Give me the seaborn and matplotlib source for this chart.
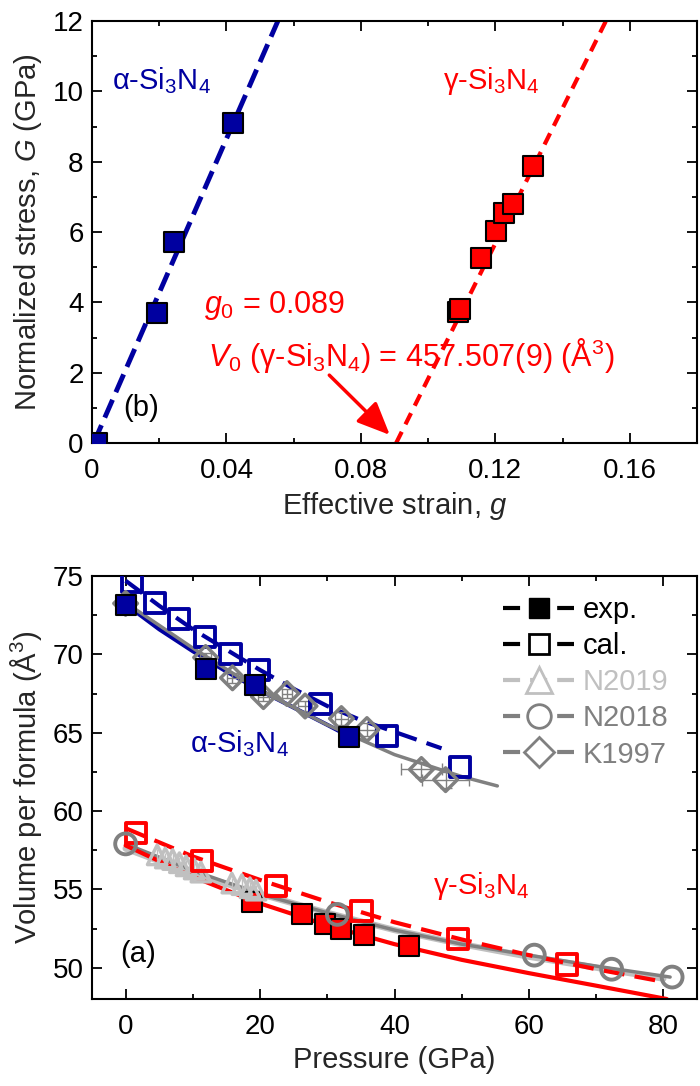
import numpy as np
import pandas as pd
import seaborn as sns
import matplotlib
matplotlib.use('Agg')
import matplotlib.pyplot as plt
from matplotlib.lines import Line2D
from matplotlib.ticker import MultipleLocator, FixedLocator, FixedFormatter

# ---------------- panel (b): normalized stress vs effective strain
alpha_g = [0.0015, 0.0192, 0.0245, 0.0420]
alpha_G = [0.0, 3.70, 5.72, 9.10]
gamma_g = [0.1088, 0.1096, 0.1157, 0.1202, 0.1226, 0.1253, 0.1313]
gamma_G = [3.72, 3.82, 5.26, 6.03, 6.55, 6.80, 7.88]
alpha_fit_g = [0.0005, 0.0553]
alpha_fit_G = [0.0, 12.0]
gamma_fit_g = [0.0905, 0.1529]
gamma_fit_G = [0.0, 12.0]
strain_ticks = [0, 0.04, 0.08, 0.12, 0.16]
strain_labels = ['0', '0.04', '0.08', '0.12', '0.16']

# ---------------- panel (a): volume vs pressure
a_exp_P = [0.0, 12.0, 19.2, 33.2]
a_exp_V = [73.15, 69.05, 68.05, 64.75]
a_cal_P = [0.9, 4.4, 7.9, 11.8, 15.6, 19.8, 29.0, 38.9, 49.8]
a_cal_V = [74.6, 73.3, 72.25, 71.1, 70.0, 69.0, 66.85, 64.8, 62.8]
a_exp_fit_P = [0, 5, 10, 15, 20, 25, 30, 34]
a_exp_fit_V = [73.2, 71.6, 70.2, 68.9, 67.7, 66.6, 65.5, 64.6]
a_cal_fit_P = [0, 5, 10, 15, 20, 25, 30, 35, 40, 47]
a_cal_fit_V = [74.7, 73.1, 71.6, 70.3, 69.0, 67.8, 66.7, 65.8, 65.05, 64.0]

k1997_P = [0.0, 11.9, 15.9, 20.5, 24.0, 26.7, 32.1, 35.9, 44.0, 47.6]
k1997_V = [73.25, 69.8, 68.5, 67.3, 67.5, 66.7, 65.9, 65.2, 62.65, 62.0]
k1997_Perr = [0.5, 0.8, 0.8, 0.8, 0.8, 1.0, 1.0, 1.2, 3.0, 3.5]
k1997_Verr = [0.3, 0.3, 0.3, 0.3, 0.3, 0.3, 0.4, 0.4, 0.5, 0.5]
k1997_fit_P = [0, 10, 20, 30, 40, 50, 55.3]
k1997_fit_V = [73.3, 70.4, 67.7, 65.5, 63.6, 62.2, 61.6]

g_exp_P = [18.8, 26.2, 29.6, 32.0, 35.5, 42.2]
g_exp_V = [54.2, 53.4, 52.8, 52.5, 52.1, 51.4]
g_cal_P = [1.6, 11.3, 22.4, 35.1, 49.4, 65.6]
g_cal_V = [58.6, 56.8, 55.2, 53.6, 51.85, 50.2]
g_exp_fit_P = [0, 10, 20, 30, 40, 50, 60, 70, 80.5]
g_exp_fit_V = [57.8, 55.8, 54.1, 52.7, 51.5, 50.5, 49.65, 48.85, 48.0]
g_cal_fit_P = [0, 10, 20, 30, 40, 50, 60, 70, 80]
g_cal_fit_V = [58.9, 57.1, 55.6, 54.2, 52.9, 51.8, 50.8, 49.9, 49.1]

n2018_P = [0.0, 31.5, 60.8, 72.3, 81.3]
n2018_V = [57.9, 53.4, 50.8, 49.9, 49.4]
n2018_fit_P = [0, 10, 20, 30, 40, 50, 60, 70, 81]
n2018_fit_V = [57.9, 56.2, 54.7, 53.5, 52.4, 51.5, 50.8, 50.1, 49.4]

n2019_P = [4.7, 5.9, 7.0, 8.0, 9.0, 10.2, 11.2, 15.8, 17.3, 18.5, 19.4]
n2019_V = [57.2, 57.0, 56.9, 56.7, 56.5, 56.3, 56.1, 55.4, 55.3, 55.1, 54.95]
n2019_fit_P = [0, 10, 20, 30, 40, 50, 60, 70, 80]
n2019_fit_V = [57.6, 56.0, 54.7, 53.5, 52.4, 51.5, 50.7, 50.0, 49.3]

legend_labels = ['exp.', 'cal.', 'N2019', 'N2018', 'K1997']

BLUE = '#0000a0'
RED = '#ff0000'
GRAY = '#808080'
LGRAY = '#c0c0c0'

sns.set_style('ticks')
plt.rcParams['font.family'] = ['Liberation Sans', 'DejaVu Sans']
plt.rcParams['mathtext.fontset'] = 'custom'
plt.rcParams['mathtext.rm'] = 'Liberation Sans'
plt.rcParams['mathtext.it'] = 'Liberation Sans:italic'
plt.rcParams['mathtext.default'] = 'regular'


def pts(ax, x, y, marker, ms, face, edge, lw, z):
    sns.scatterplot(x=x, y=y, ax=ax, marker=marker, s=ms ** 2, color=edge,
                    edgecolor=edge, linewidth=lw, zorder=z, legend=False)
    pc = ax.collections[-1]
    pc.set_facecolor(face)
    pc.set_edgecolor(edge)


def fit(ax, x, y, color, lw, dashes=None, z=2):
    sns.lineplot(x=x, y=y, ax=ax, color=color, lw=lw, zorder=z,
                 sort=False, estimator=None)
    ln = ax.lines[-1]
    if dashes:
        ln.set_dashes(dashes)


def style(ax):
    ax.tick_params(which='both', direction='in', top=True, right=True,
                   width=1.3, labelsize=20, colors='black')
    ax.tick_params(which='major', length=7)
    ax.tick_params(which='minor', length=3.5)
    ax.tick_params(axis='x', pad=11)
    ax.tick_params(axis='y', pad=6)
    for sp in ax.spines.values():
        sp.set_visible(True)
        sp.set_linewidth(1.5)
        sp.set_color('black')


fig = plt.figure(figsize=(7, 10.86), dpi=100)
ax_b = fig.add_axes([92 / 700, 1 - 443 / 1086, 605 / 700, 422 / 1086])
ax_a = fig.add_axes([92 / 700, 1 - 999 / 1086, 605 / 700, 423 / 1086])

# ---------- panel (b)
fit(ax_b, alpha_fit_g, alpha_fit_G, BLUE, 3.5, dashes=(4, 1.7))
fit(ax_b, gamma_fit_g, gamma_fit_G, RED, 3, dashes=(3, 2))
pts(ax_b, alpha_g, alpha_G, 's', 14.5, BLUE, 'black', 1.5, 4)
pts(ax_b, gamma_g, gamma_G, 's', 14.5, RED, 'black', 1.5, 4)

ax_b.set_xlim(0, 0.18)
ax_b.set_ylim(0, 12)
ax_b.xaxis.set_major_locator(FixedLocator(strain_ticks))
ax_b.xaxis.set_major_formatter(FixedFormatter(strain_labels))
ax_b.xaxis.set_minor_locator(MultipleLocator(0.02))
ax_b.yaxis.set_major_locator(MultipleLocator(2))
ax_b.yaxis.set_minor_locator(MultipleLocator(1))
style(ax_b)
ax_b.set_xlabel(r'Effective strain, $\mathit{g}$', fontsize=21, labelpad=4)
ax_b.set_ylabel(r'Normalized stress, $\mathit{G}$ (GPa)', fontsize=21, labelpad=6)

ax_b.text(0.006, 10.3, 'α-Si$_3$N$_4$', color=BLUE, fontsize=21, va='center')
ax_b.text(0.1045, 10.3, 'γ-Si$_3$N$_4$', color=RED, fontsize=21, va='center')
ax_b.text(0.0092, 1.0, '(b)', color='black', fontsize=21, va='center')
ax_b.text(0.0334, 3.9, r'$\mathit{g}_0$ = 0.089', color=RED, fontsize=22, va='center')
ax_b.text(0.0345, 2.5, r'$\mathit{V}_0$ (γ-Si$_3$N$_4$) = 457.507(9) (Å$^3$)',
          color=RED, fontsize=22, va='center')
ax_b.annotate('', xy=(0.0886, 0.23), xytext=(0.0706, 1.93),
              arrowprops=dict(arrowstyle='-|>,head_length=0.8,head_width=0.35',
                              color=RED, lw=2.5, mutation_scale=25,
                              shrinkA=0, shrinkB=0))

# ---------- panel (a)
fit(ax_a, n2019_fit_P, n2019_fit_V, LGRAY, 4.5, z=2)
fit(ax_a, n2018_fit_P, n2018_fit_V, GRAY, 2.5, z=2.1)
fit(ax_a, g_exp_fit_P, g_exp_fit_V, RED, 3, z=2.2)
fit(ax_a, g_cal_fit_P, g_cal_fit_V, RED, 3, dashes=(5, 2.5), z=2.2)
fit(ax_a, a_exp_fit_P, a_exp_fit_V, BLUE, 3, z=2.2)
fit(ax_a, a_cal_fit_P, a_cal_fit_V, BLUE, 3, dashes=(5, 2.5), z=2.2)
fit(ax_a, k1997_fit_P, k1997_fit_V, GRAY, 2.5, z=2.3)

ax_a.errorbar(k1997_P, k1997_V, xerr=k1997_Perr, yerr=k1997_Verr, fmt='none',
              ecolor=GRAY, elinewidth=1, capsize=4, zorder=2.5)
ax_a.errorbar(n2019_P, n2019_V, yerr=[0.35] * len(n2019_V), fmt='none',
              ecolor=LGRAY, elinewidth=1, capsize=0, zorder=2.5)

pts(ax_a, a_cal_P, a_cal_V, 's', 14.5, 'none', BLUE, 2.8, 3)
pts(ax_a, g_exp_P, g_exp_V, 's', 15, RED, 'black', 1.5, 3)
pts(ax_a, n2019_P, n2019_V, '^', 14, 'none', LGRAY, 2.5, 3.2)
pts(ax_a, g_cal_P, g_cal_V, 's', 14.5, 'none', RED, 2.8, 3.3)
pts(ax_a, n2018_P, n2018_V, 'o', 15, 'none', GRAY, 2.8, 3.4)
pts(ax_a, k1997_P, k1997_V, 'D', 12, 'none', GRAY, 2.5, 3.4)
pts(ax_a, a_exp_P, a_exp_V, 's', 15, BLUE, 'black', 1.5, 4)

ax_a.set_xlim(-5, 85)
ax_a.set_ylim(48, 75)
ax_a.xaxis.set_major_locator(MultipleLocator(20))
ax_a.xaxis.set_minor_locator(MultipleLocator(10))
ax_a.yaxis.set_major_locator(MultipleLocator(5))
ax_a.yaxis.set_minor_locator(MultipleLocator(2.5))
style(ax_a)
ax_a.set_xlabel('Pressure (GPa)', fontsize=21, labelpad=4)
ax_a.set_ylabel('Volume per formula (Å$^3$)', fontsize=21, labelpad=6)

ax_a.text(9.6, 64.3, 'α-Si$_3$N$_4$', color=BLUE, fontsize=21, va='center')
ax_a.text(45.7, 55.2, 'γ-Si$_3$N$_4$', color=RED, fontsize=21, va='center')
ax_a.text(-0.75, 50.9, '(a)', color='black', fontsize=21, va='center')

dash = (4.1, 2.4)
handles = [
    Line2D([], [], color='black', lw=3, dashes=dash, marker='s', ms=15,
           mfc='black', mec='black'),
    Line2D([], [], color='black', lw=3, dashes=dash, marker='s', ms=15,
           mfc='white', mec='black', mew=2),
    Line2D([], [], color=LGRAY, lw=3, dashes=dash, marker='^', ms=19,
           mfc='white', mec=LGRAY, mew=2),
    Line2D([], [], color=GRAY, lw=3, dashes=dash, marker='o', ms=17,
           mfc='white', mec=GRAY, mew=2),
    Line2D([], [], color=GRAY, lw=3, dashes=dash, marker='D', ms=15,
           mfc='white', mec=GRAY, mew=2),
]
leg = ax_a.legend(handles, legend_labels, loc='upper left',
                  bbox_to_anchor=(0.679, 0.953), frameon=False, fontsize=21,
                  handlelength=2.45, handletextpad=0.3, labelspacing=0.28,
                  borderaxespad=0, borderpad=0)
for t, c in zip(leg.get_texts(), ['black', 'black', LGRAY, GRAY, GRAY]):
    t.set_color(c)

fig.savefig('out.png', dpi=100)
